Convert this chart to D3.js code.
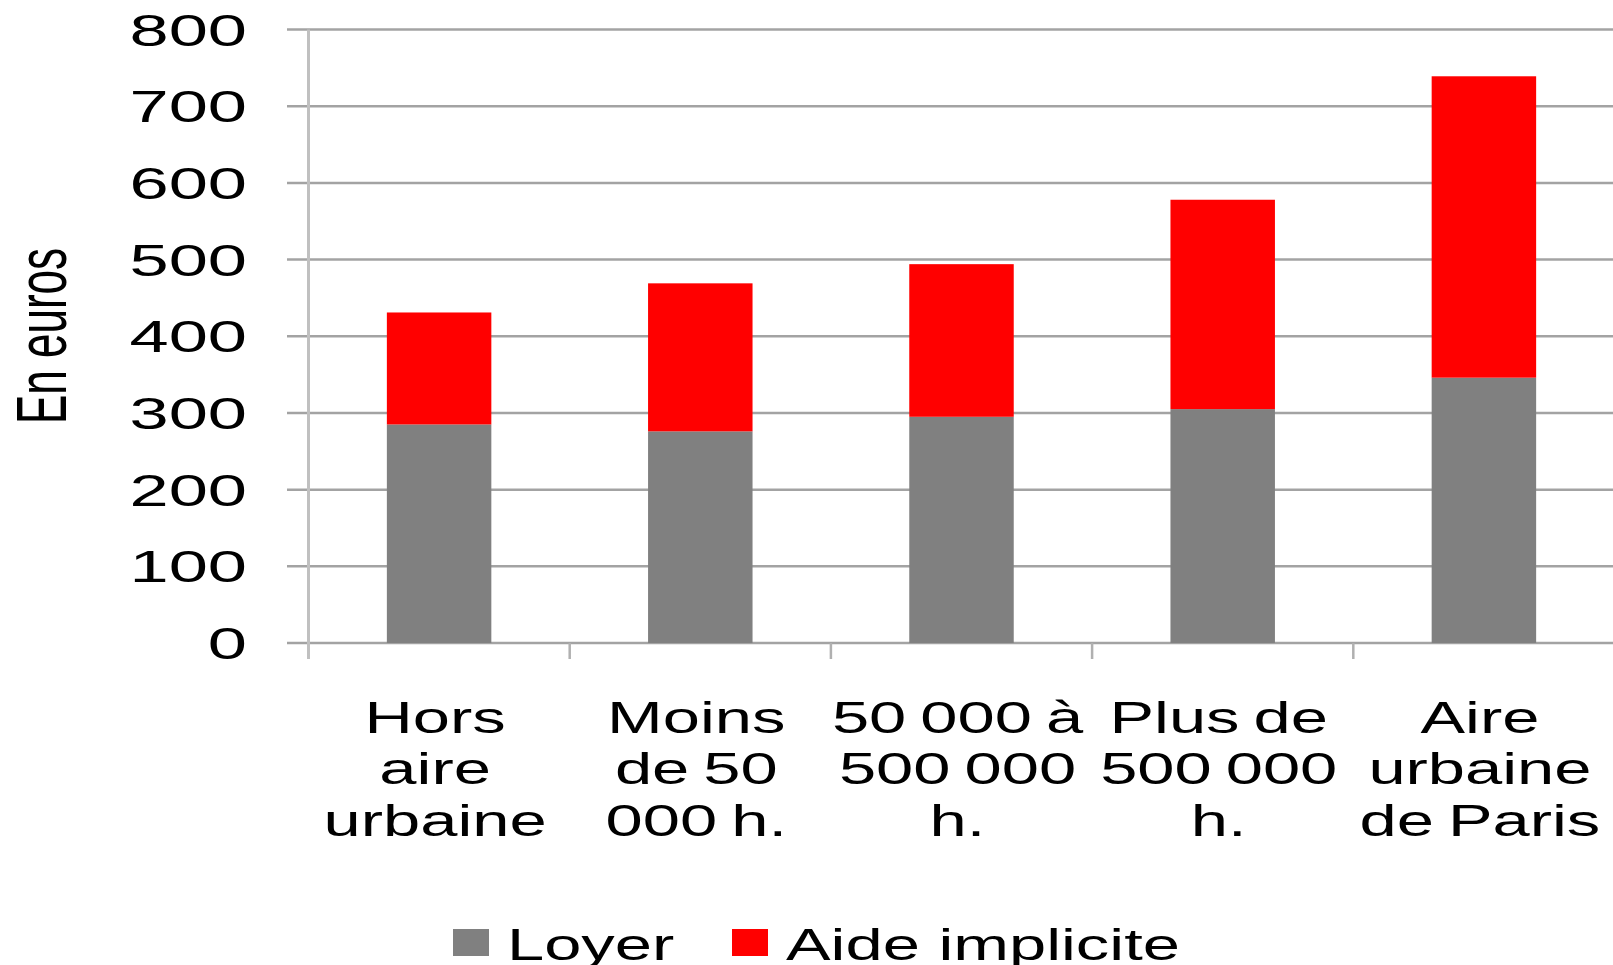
<!DOCTYPE html>
<html>

<head>
	<title>Loyer et aide implicite</title>
	<meta charset="utf-8" />
	<script src="https://d3js.org/d3.v7.min.js"></script>
	<style>
		body,
		html {
			margin: 0;
			background: white;
		}

		svg text {
			font-family: "Liberation Sans", Arial, sans-serif;
			fill: black;
		}
	</style>
</head>

<body>
	<svg id="chart" width="1613" height="965"></svg>
	<script>
		// data
		var categories = ["Hors\naire\nurbaine", "Moins\nde 50\n000 h.", "50 000 à\n500 000\nh.", "Plus de\n500 000\nh.", "Aire\nurbaine\nde Paris"];
		var loyer = [285, 276, 295, 305, 346];
		var aide = [146, 193, 199, 273, 393];
		var seriesNames = ["Loyer", "Aide implicite"];
		var seriesColors = ["#808080", "#ff0000"];
		var yTicks = [0, 100, 200, 300, 400, 500, 600, 700, 800];

		var stretch = 1.52; // the source image is squeezed wide
		var tickStretch = 1.6;
		var fontSize = 44;

		var svg = d3.select("#chart");

		var x = d3.scaleBand()
			.domain(d3.range(categories.length))
			.range([308.5, 1614.5])
			.paddingInner(0.6)
			.paddingOuter(0.3);

		var y = d3.scaleLinear()
			.domain([0, 800])
			.range([643, 29.5]);

		// gridlines
		svg.append("g").selectAll("line")
			.data(yTicks)
			.enter()
			.append("line")
			.attr("x1", 287)
			.attr("x2", 1613)
			.attr("y1", function(d) { return y(d); })
			.attr("y2", function(d) { return y(d); })
			.attr("stroke", "#a3a3a3")
			.attr("stroke-width", 2.5);

		// tick labels
		svg.append("g").selectAll("g")
			.data(yTicks)
			.enter()
			.append("g")
			.attr("transform", function(d) { return "translate(247," + (y(d) + 16) + ") scale(" + tickStretch + ",1)"; })
			.append("text")
			.attr("text-anchor", "end")
			.style("font-size", fontSize + "px")
			.text(function(d) { return d; });

		// y axis line
		svg.append("line")
			.attr("x1", 308.5)
			.attr("x2", 308.5)
			.attr("y1", y(800))
			.attr("y2", y(0) + 16)
			.attr("stroke", "#c0c0c0")
			.attr("stroke-width", 3);

		// category ticks between bands
		var bounds = d3.range(1, categories.length).map(function(i) { return x.range()[0] + i * x.step(); });
		svg.append("g").selectAll("line")
			.data(bounds)
			.enter()
			.append("line")
			.attr("x1", function(d) { return d; })
			.attr("x2", function(d) { return d; })
			.attr("y1", y(0))
			.attr("y2", y(0) + 16)
			.attr("stroke", "#b0b0b0")
			.attr("stroke-width", 2.5);

		// stacked bars
		var rows = categories.map(function(c, i) { return { i: i, Loyer: loyer[i], "Aide implicite": aide[i] }; });
		var stack = d3.stack().keys(seriesNames)(rows);

		svg.append("g").selectAll("g")
			.data(stack)
			.enter()
			.append("g")
			.attr("fill", function(d, i) { return seriesColors[i]; })
			.selectAll("rect")
			.data(function(d) { return d; })
			.enter()
			.append("rect")
			.attr("x", function(d) { return x(d.data.i); })
			.attr("width", x.bandwidth())
			.attr("y", function(d) { return y(d[1]); })
			.attr("height", function(d) { return y(d[0]) - y(d[1]); });

		// category labels, wrapped on three lines
		var labels = svg.append("g").selectAll("g")
			.data(categories)
			.enter()
			.append("g")
			.attr("transform", function(d, i) { return "translate(" + (x(i) + x.bandwidth() / 2 - 4) + ",733) scale(" + stretch + ",1)"; })
			.append("text")
			.attr("text-anchor", "middle")
			.style("font-size", fontSize + "px")
			.style("word-spacing", "-3px");

		labels.selectAll("tspan")
			.data(function(d) { return d.split("\n"); })
			.enter()
			.append("tspan")
			.attr("x", 0)
			.attr("y", function(d, j) { return j * 51.5; })
			.text(function(d) { return d; });

		// y axis title
		svg.append("g")
			.attr("transform", "translate(66,336) scale(" + tickStretch + ",1) rotate(-90)")
			.append("text")
			.attr("text-anchor", "middle")
			.style("font-size", fontSize + "px")
			.text("En euros");

		// legend
		var legendX = [453, 732];
		var legend = svg.append("g").selectAll("g")
			.data(seriesNames)
			.enter()
			.append("g")
			.attr("transform", function(d, i) { return "translate(" + legendX[i] + ",0)"; });

		legend.append("rect")
			.attr("x", 0)
			.attr("y", 929)
			.attr("width", 36)
			.attr("height", 27)
			.attr("fill", function(d, i) { return seriesColors[i]; });

		legend.append("g")
			.attr("transform", "translate(54,960) scale(" + stretch + ",1)")
			.append("text")
			.style("font-size", fontSize + "px")
			.text(function(d) { return d; });
	</script>
</body>

</html>
